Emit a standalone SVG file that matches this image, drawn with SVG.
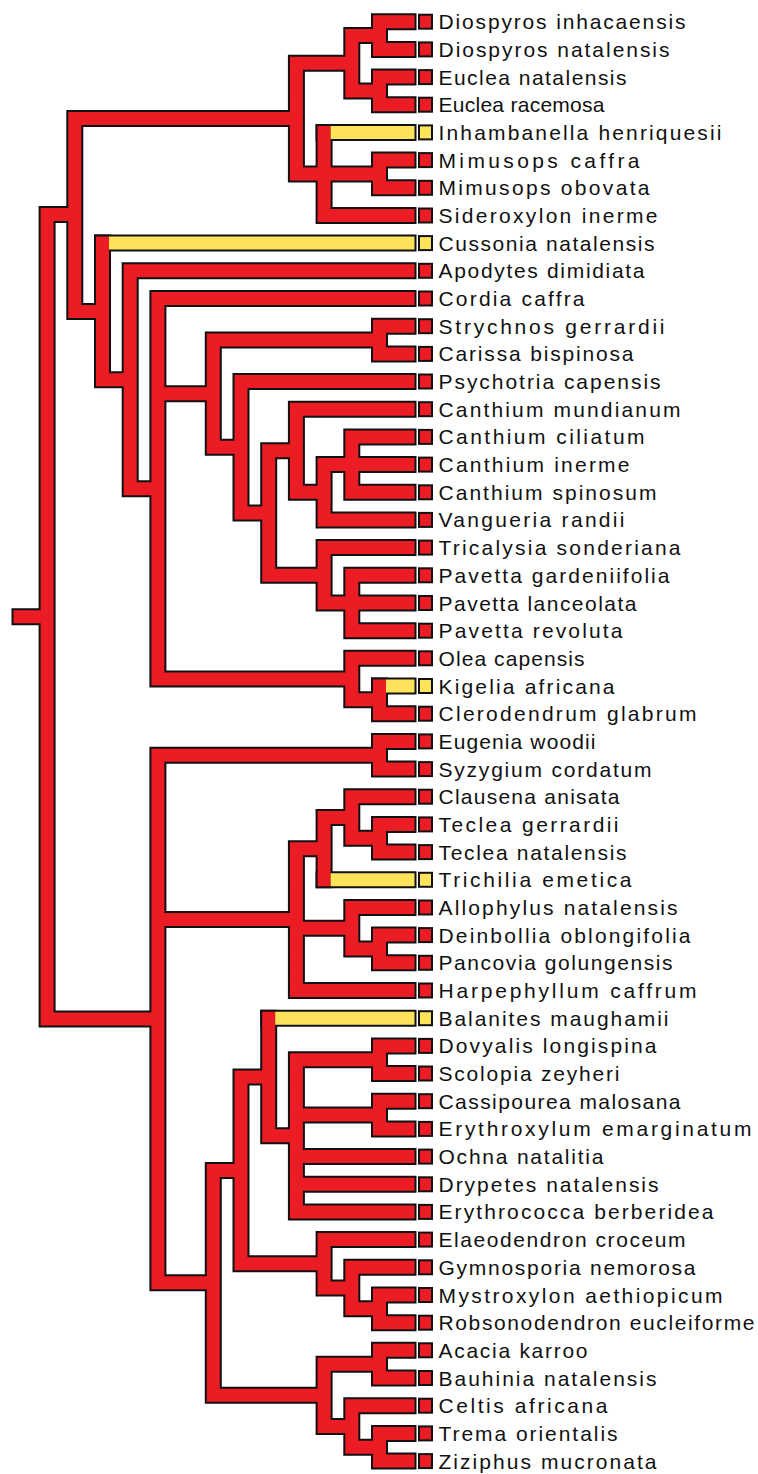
<svg xmlns="http://www.w3.org/2000/svg" xmlns:xlink="http://www.w3.org/1999/xlink" width="758" height="1474" viewBox="0 0 758 1474">
<style>
.ol{fill:none;stroke:#111;stroke-width:17;stroke-linecap:square}
.rd{fill:none;stroke:#EC1C24;stroke-width:13;stroke-linecap:square}
.yf{fill:none;stroke:#FEE35B;stroke-width:13;stroke-linecap:butt}
.bx{stroke:#111;stroke-width:2}
.br{fill:#EC1C24}
.by{fill:#FEE35B}
text{font-family:"Liberation Sans",Arial,sans-serif;font-size:21px;fill:#111}
</style>
<defs>
<path id="red" d="M379.5 21.7V49.4M379.5 21.7H408M379.5 49.4H408
M379.5 77.1V104.7M379.5 77.1H408M379.5 104.7H408
M351.8 35.55V90.9M351.8 35.55H379.5M351.8 90.9H379.5
M379.5 160.1V187.8M379.5 160.1H408M379.5 187.8H408
M324.1 132.4V215.5M324.1 173.95H379.5M324.1 215.5H408
M296.4 63.2V173.95M296.4 63.2H351.8M296.4 173.95H324.1
M74.8 118.6V311.45M74.8 118.6H296.4M74.8 311.45H102.5
M102.5 243.1V379.8M102.5 379.8H130.2
M130.2 270.8V488.8M130.2 270.8H408M130.2 488.8H157.9
M157.9 298.5V679.1M157.9 298.5H408M157.9 393.65H213.3M157.9 679.1H351.8
M213.3 340.05V447.25M213.3 340.05H379.5M213.3 447.25H241
M379.5 326.2V353.9M379.5 326.2H408M379.5 353.9H408
M241 381.5V513M241 381.5H408M241 513H268.7
M268.7 450.7V575.3M268.7 450.7H296.4M268.7 575.3H324.1
M296.4 409.2V492.25M296.4 409.2H408M296.4 492.25H324.1
M324.1 464.6V519.9M324.1 464.6H351.8M324.1 519.9H408
M351.8 436.9V492.3M351.8 436.9H408M351.8 464.6H408M351.8 492.3H408
M324.1 547.6V603M324.1 547.6H408M324.1 603H351.8
M351.8 575.3V630.7M351.8 575.3H408M351.8 603H408M351.8 630.7H408
M351.8 658.3V699.85M351.8 658.3H408M351.8 699.85H379.5
M379.5 686V713.7M379.5 713.7H408
M47.1 214.5V1019M47.1 214.5H74.8M47.1 1019H157.9M20 616.8H47.1
M157.9 755.25V1282.85M157.9 755.25H379.5M157.9 919.6H296.4M157.9 1282.85H213.3
M379.5 741.4V769.1M379.5 741.4H408M379.5 769.1H408
M296.4 848.65V990.5M296.4 848.65H324.1M296.4 928.2H351.8M296.4 990.5H408
M324.1 817.5V879.8M324.1 817.5H351.8
M351.8 796.7V838.25M351.8 796.7H408M351.8 838.25H379.5
M379.5 824.4V852.1M379.5 824.4H408M379.5 852.1H408
M351.8 907.5V948.95M351.8 907.5H408M351.8 948.95H379.5
M379.5 935.1V962.8M379.5 935.1H408M379.5 962.8H408
M213.3 1170.4V1395.3M213.3 1170.4H241M213.3 1395.3H324.1
M241 1077V1263.85M241 1077H268.7M241 1263.85H324.1
M268.7 1018.2V1135.8M268.7 1135.8H296.4
M296.4 1059.7V1211.9M296.4 1059.7H379.5M296.4 1115.05H379.5M296.4 1156.6H408M296.4 1184.3H408M296.4 1211.9H408
M379.5 1045.9V1073.5M379.5 1045.9H408M379.5 1073.5H408
M379.5 1101.2V1128.9M379.5 1101.2H408M379.5 1128.9H408
M324.1 1239.6V1288.1M324.1 1239.6H408M324.1 1288.1H351.8
M351.8 1267.3V1308.85M351.8 1267.3H408M351.8 1308.85H379.5
M379.5 1295V1322.7M379.5 1295H408M379.5 1322.7H408
M324.1 1364.15V1426.5M324.1 1364.15H379.5M324.1 1426.5H351.8
M379.5 1350.3V1378M379.5 1350.3H408M379.5 1378H408
M351.8 1405.7V1447.25M351.8 1405.7H408M351.8 1447.25H379.5
M379.5 1433.4V1461.1M379.5 1433.4H408M379.5 1461.1H408"/>
<path id="yel" d="M324.1 132.4H408M102.5 243.1H408M379.5 686H408M324.1 879.8H408M268.7 1018.2H408"/>
</defs>
<g id="connectors">
<use xlink:href="#red" class="ol"/>
<use xlink:href="#yel" class="ol"/>
<use xlink:href="#red" class="rd"/>
<path class="yf" d="M330.6 132.4H414.5M109 243.1H414.5M386 686H414.5M330.6 879.8H414.5M275.2 1018.2H414.5"/>
</g>
<g id="n1"><rect class="bx br" x="419" y="14.7" width="13" height="14"/><text x="438.5" y="29.2" textLength="247" lengthAdjust="spacing">Diospyros inhacaensis</text></g>
<g id="n2"><rect class="bx br" x="419" y="42.4" width="13" height="14"/><text x="438.5" y="56.9" textLength="231" lengthAdjust="spacing">Diospyros natalensis</text></g>
<g id="n3"><rect class="bx br" x="419" y="70.1" width="13" height="14"/><text x="438.5" y="84.6" textLength="188" lengthAdjust="spacing">Euclea natalensis</text></g>
<g id="n4"><rect class="bx br" x="419" y="97.7" width="13" height="14"/><text x="438.5" y="112.2" textLength="166" lengthAdjust="spacing">Euclea racemosa</text></g>
<g id="n5"><rect class="bx by" x="419" y="125.4" width="13" height="14"/><text x="438.5" y="139.9" textLength="283" lengthAdjust="spacing">Inhambanella henriquesii</text></g>
<g id="n6"><rect class="bx br" x="419" y="153.1" width="13" height="14"/><text x="438.5" y="167.6" textLength="201" lengthAdjust="spacing">Mimusops caffra</text></g>
<g id="n7"><rect class="bx br" x="419" y="180.8" width="13" height="14"/><text x="438.5" y="195.3" textLength="211" lengthAdjust="spacing">Mimusops obovata</text></g>
<g id="n8"><rect class="bx br" x="419" y="208.5" width="13" height="14"/><text x="438.5" y="223" textLength="219" lengthAdjust="spacing">Sideroxylon inerme</text></g>
<g id="n9"><rect class="bx by" x="419" y="236.1" width="13" height="14"/><text x="438.5" y="250.6" textLength="216" lengthAdjust="spacing">Cussonia natalensis</text></g>
<g id="n10"><rect class="bx br" x="419" y="263.8" width="13" height="14"/><text x="438.5" y="278.3" textLength="206" lengthAdjust="spacing">Apodytes dimidiata</text></g>
<g id="n11"><rect class="bx br" x="419" y="291.5" width="13" height="14"/><text x="438.5" y="306" textLength="146" lengthAdjust="spacing">Cordia caffra</text></g>
<g id="n12"><rect class="bx br" x="419" y="319.2" width="13" height="14"/><text x="438.5" y="333.7" textLength="226" lengthAdjust="spacing">Strychnos gerrardii</text></g>
<g id="n13"><rect class="bx br" x="419" y="346.9" width="13" height="14"/><text x="438.5" y="361.4" textLength="195" lengthAdjust="spacing">Carissa bispinosa</text></g>
<g id="n14"><rect class="bx br" x="419" y="374.5" width="13" height="14"/><text x="438.5" y="389" textLength="222" lengthAdjust="spacing">Psychotria capensis</text></g>
<g id="n15"><rect class="bx br" x="419" y="402.2" width="13" height="14"/><text x="438.5" y="416.7" textLength="242" lengthAdjust="spacing">Canthium mundianum</text></g>
<g id="n16"><rect class="bx br" x="419" y="429.9" width="13" height="14"/><text x="438.5" y="444.4" textLength="206" lengthAdjust="spacing">Canthium ciliatum</text></g>
<g id="n17"><rect class="bx br" x="419" y="457.6" width="13" height="14"/><text x="438.5" y="472.1" textLength="191" lengthAdjust="spacing">Canthium inerme</text></g>
<g id="n18"><rect class="bx br" x="419" y="485.3" width="13" height="14"/><text x="438.5" y="499.8" textLength="218" lengthAdjust="spacing">Canthium spinosum</text></g>
<g id="n19"><rect class="bx br" x="419" y="512.9" width="13" height="14"/><text x="438.5" y="527.4" textLength="186" lengthAdjust="spacing">Vangueria randii</text></g>
<g id="n20"><rect class="bx br" x="419" y="540.6" width="13" height="14"/><text x="438.5" y="555.1" textLength="242" lengthAdjust="spacing">Tricalysia sonderiana</text></g>
<g id="n21"><rect class="bx br" x="419" y="568.3" width="13" height="14"/><text x="438.5" y="582.8" textLength="231" lengthAdjust="spacing">Pavetta gardeniifolia</text></g>
<g id="n22"><rect class="bx br" x="419" y="596" width="13" height="14"/><text x="438.5" y="610.5" textLength="198" lengthAdjust="spacing">Pavetta lanceolata</text></g>
<g id="n23"><rect class="bx br" x="419" y="623.7" width="13" height="14"/><text x="438.5" y="638.2" textLength="184" lengthAdjust="spacing">Pavetta revoluta</text></g>
<g id="n24"><rect class="bx br" x="419" y="651.3" width="13" height="14"/><text x="438.5" y="665.8" textLength="146" lengthAdjust="spacing">Olea capensis</text></g>
<g id="n25"><rect class="bx by" x="419" y="679" width="13" height="14"/><text x="438.5" y="693.5" textLength="176" lengthAdjust="spacing">Kigelia africana</text></g>
<g id="n26"><rect class="bx br" x="419" y="706.7" width="13" height="14"/><text x="438.5" y="721.2" textLength="258" lengthAdjust="spacing">Clerodendrum glabrum</text></g>
<g id="n27"><rect class="bx br" x="419" y="734.4" width="13" height="14"/><text x="438.5" y="748.9" textLength="157" lengthAdjust="spacing">Eugenia woodii</text></g>
<g id="n28"><rect class="bx br" x="419" y="762.1" width="13" height="14"/><text x="438.5" y="776.6" textLength="213" lengthAdjust="spacing">Syzygium cordatum</text></g>
<g id="n29"><rect class="bx br" x="419" y="789.7" width="13" height="14"/><text x="438.5" y="804.2" textLength="181" lengthAdjust="spacing">Clausena anisata</text></g>
<g id="n30"><rect class="bx br" x="419" y="817.4" width="13" height="14"/><text x="438.5" y="831.9" textLength="180" lengthAdjust="spacing">Teclea gerrardii</text></g>
<g id="n31"><rect class="bx br" x="419" y="845.1" width="13" height="14"/><text x="438.5" y="859.6" textLength="188" lengthAdjust="spacing">Teclea natalensis</text></g>
<g id="n32"><rect class="bx by" x="419" y="872.8" width="13" height="14"/><text x="438.5" y="887.3" textLength="193" lengthAdjust="spacing">Trichilia emetica</text></g>
<g id="n33"><rect class="bx br" x="419" y="900.5" width="13" height="14"/><text x="438.5" y="915" textLength="239" lengthAdjust="spacing">Allophylus natalensis</text></g>
<g id="n34"><rect class="bx br" x="419" y="928.1" width="13" height="14"/><text x="438.5" y="942.6" textLength="252" lengthAdjust="spacing">Deinbollia oblongifolia</text></g>
<g id="n35"><rect class="bx br" x="419" y="955.8" width="13" height="14"/><text x="438.5" y="970.3" textLength="234" lengthAdjust="spacing">Pancovia golungensis</text></g>
<g id="n36"><rect class="bx br" x="419" y="983.5" width="13" height="14"/><text x="438.5" y="998" textLength="258" lengthAdjust="spacing">Harpephyllum caffrum</text></g>
<g id="n37"><rect class="bx by" x="419" y="1011.2" width="13" height="14"/><text x="438.5" y="1025.7" textLength="230" lengthAdjust="spacing">Balanites maughamii</text></g>
<g id="n38"><rect class="bx br" x="419" y="1038.9" width="13" height="14"/><text x="438.5" y="1053.4" textLength="218" lengthAdjust="spacing">Dovyalis longispina</text></g>
<g id="n39"><rect class="bx br" x="419" y="1066.5" width="13" height="14"/><text x="438.5" y="1081" textLength="181" lengthAdjust="spacing">Scolopia zeyheri</text></g>
<g id="n40"><rect class="bx br" x="419" y="1094.2" width="13" height="14"/><text x="438.5" y="1108.7" textLength="242" lengthAdjust="spacing">Cassipourea malosana</text></g>
<g id="n41"><rect class="bx br" x="419" y="1121.9" width="13" height="14"/><text x="438.5" y="1136.4" textLength="313" lengthAdjust="spacing">Erythroxylum emarginatum</text></g>
<g id="n42"><rect class="bx br" x="419" y="1149.6" width="13" height="14"/><text x="438.5" y="1164.1" textLength="165" lengthAdjust="spacing">Ochna natalitia</text></g>
<g id="n43"><rect class="bx br" x="419" y="1177.3" width="13" height="14"/><text x="438.5" y="1191.8" textLength="220" lengthAdjust="spacing">Drypetes natalensis</text></g>
<g id="n44"><rect class="bx br" x="419" y="1204.9" width="13" height="14"/><text x="438.5" y="1219.4" textLength="275" lengthAdjust="spacing">Erythrococca berberidea</text></g>
<g id="n45"><rect class="bx br" x="419" y="1232.6" width="13" height="14"/><text x="438.5" y="1247.1" textLength="247" lengthAdjust="spacing">Elaeodendron croceum</text></g>
<g id="n46"><rect class="bx br" x="419" y="1260.3" width="13" height="14"/><text x="438.5" y="1274.8" textLength="257" lengthAdjust="spacing">Gymnosporia nemorosa</text></g>
<g id="n47"><rect class="bx br" x="419" y="1288" width="13" height="14"/><text x="438.5" y="1302.5" textLength="284" lengthAdjust="spacing">Mystroxylon aethiopicum</text></g>
<g id="n48"><rect class="bx br" x="419" y="1315.7" width="13" height="14"/><text x="438.5" y="1330.2" textLength="316" lengthAdjust="spacing">Robsonodendron eucleiforme</text></g>
<g id="n49"><rect class="bx br" x="419" y="1343.3" width="13" height="14"/><text x="438.5" y="1357.8" textLength="149" lengthAdjust="spacing">Acacia karroo</text></g>
<g id="n50"><rect class="bx br" x="419" y="1371" width="13" height="14"/><text x="438.5" y="1385.5" textLength="218" lengthAdjust="spacing">Bauhinia natalensis</text></g>
<g id="n51"><rect class="bx br" x="419" y="1398.7" width="13" height="14"/><text x="438.5" y="1413.2" textLength="169" lengthAdjust="spacing">Celtis africana</text></g>
<g id="n52"><rect class="bx br" x="419" y="1426.4" width="13" height="14"/><text x="438.5" y="1440.9" textLength="179" lengthAdjust="spacing">Trema orientalis</text></g>
<g id="n53"><rect class="bx br" x="419" y="1454.1" width="13" height="14"/><text x="438.5" y="1468.6" textLength="218" lengthAdjust="spacing">Ziziphus mucronata</text></g>
</svg>
